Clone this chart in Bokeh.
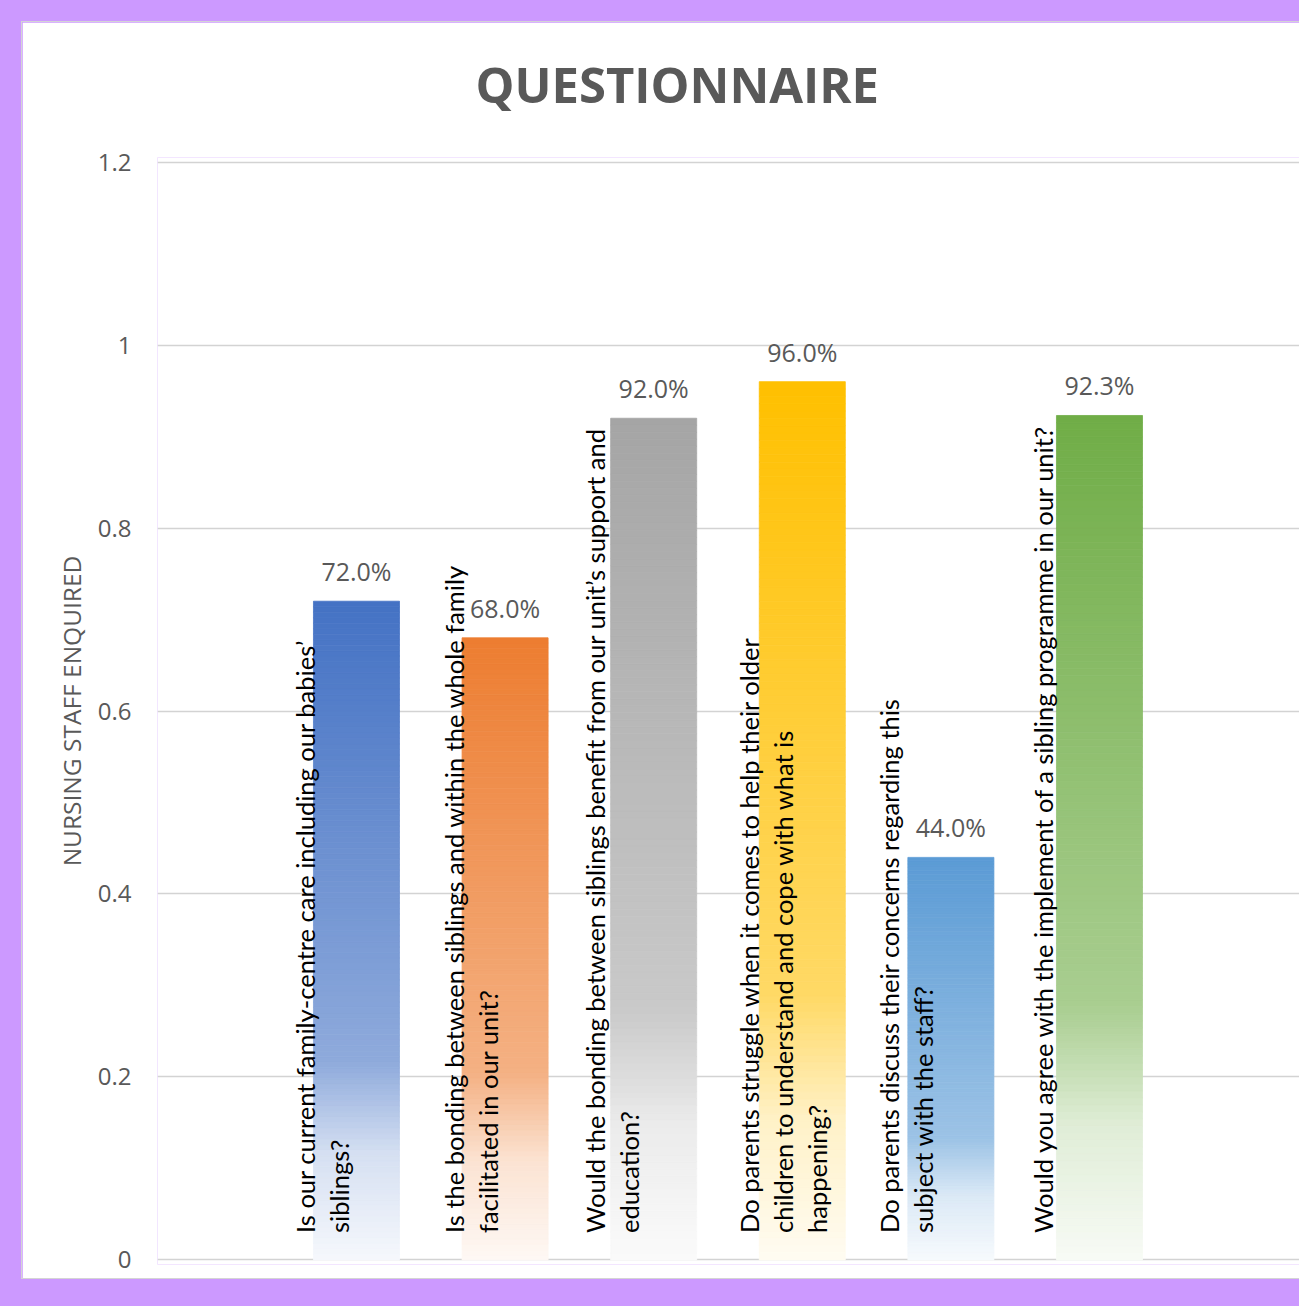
import numpy as np
from bokeh.plotting import figure
from bokeh.models import Range1d, FixedTicker, ColumnDataSource, Title
from bokeh.layouts import column
from bokeh.core.properties import value
from bokeh.embed import file_html
from bokeh.resources import INLINE

# ---------------- data ----------------
title_text = "QUESTIONNAIRE"
y_axis_title = "NURSING STAFF ENQUIRED"
questions = [
    ["Is our current family-centre care including our babies\u2019", "siblings?"],
    ["Is the bonding between siblings and within the whole family", "facilitated in our unit?"],
    ["Would the bonding between siblings benefit from our unit\u2019s support and", "education?"],
    ["Do parents struggle when it comes to help their older",
     "children to understand and cope with what is", "happening?"],
    ["Do parents discuss their concerns regarding this", "subject with the staff?"],
    ["Would you agree with the implement of a sibling programme in our unit?"],
]
values = [0.72, 0.68, 0.92, 0.96, 0.44, 0.923]
value_labels = ["72.0%", "68.0%", "92.0%", "96.0%", "44.0%", "92.3%"]
bar_colors = ["#4472C4", "#ED7D31", "#A5A5A5", "#FFC000", "#5B9BD5", "#70AD47"]
y_ticks = [0, 0.2, 0.4, 0.6, 0.8, 1.0, 1.2]
y_tick_labels = ["0", "0.2", "0.4", "0.6", "0.8", "1", "1.2"]

# ---------------- style / layout ----------------
GREY = "#595959"
BAR_W = 0.579
line_first_offset = [-51, -51, -59, -53, -62, -56]  # px, first text line vs bar centre
LINE_STEP = 34
fade_t = [0.0, 0.70, 0.84, 1.0]
fade_f = [0.0, 0.40, 0.78, 0.95]
N_SLICES = 120


def hex_rgb(h):
    h = h.lstrip("#")
    return np.array([int(h[i:i + 2], 16) for i in (0, 2, 4)], dtype=float)


def to_hex(c):
    c = np.clip(np.round(c), 0, 255).astype(int)
    return "#%02x%02x%02x" % tuple(c)


xs = list(range(len(values)))

p = figure(width=1277, height=1256, output_backend="svg", toolbar_location=None,
           x_range=Range1d(-1.339, 6.346), y_range=Range1d(-0.005, 1.205),
           min_border_left=135, min_border_right=0, min_border_top=135,
           min_border_bottom=14)
p.styles = {"box-shadow": "0 0 0 1px #d4d4d4"}
p.background_fill_color = "white"
p.border_fill_color = "white"
p.outline_line_color = None

# spacer panel between frame and title, then the title itself (outermost)
p.add_layout(Title(text=" ", text_font_size="1px", standoff=14), "above")
p.add_layout(Title(text=title_text, text_font="Open Sans", text_font_size="49px",
                   text_font_style="bold", text_color=GREY, align="left",
                   offset=318, standoff=48), "above")

p.xaxis.visible = False
p.xgrid.visible = False
p.ygrid.ticker = FixedTicker(ticks=y_ticks)
p.ygrid.grid_line_color = "#d3d3d3"
p.ygrid.grid_line_width = 1.6

ya = p.yaxis[0]
ya.ticker = FixedTicker(ticks=y_ticks)
ya.major_label_overrides = {float(t): l for t, l in zip(y_ticks, y_tick_labels)}
ya.axis_line_color = None
ya.major_tick_line_color = None
ya.minor_tick_line_color = None
ya.major_label_text_font = "Open Sans"
ya.major_label_text_font_size = "24px"
ya.major_label_text_color = GREY
ya.major_label_standoff = 20
ya.axis_label = y_axis_title
ya.axis_label_text_font = "Open Sans"
ya.axis_label_text_font_size = "24.5px"
ya.axis_label_text_font_style = "normal"
ya.axis_label_text_color = GREY
ya.axis_label_standoff = 7

# gradient bars made of thin slices
L, R, B, T, C = [], [], [], [], []
for x, v, col in zip(xs, values, bar_colors):
    base = hex_rgb(col)
    for k in range(N_SLICES):
        tmid = 1 - (k + 0.5) / N_SLICES
        f = np.interp(tmid, fade_t, fade_f)
        L.append(x - BAR_W / 2)
        R.append(x + BAR_W / 2)
        B.append(v * k / N_SLICES)
        T.append(v * (k + 1) / N_SLICES)
        C.append(to_hex(base + (255 - base) * f))
src = ColumnDataSource(dict(left=L, right=R, bottom=B, top=T, color=C))
p.quad(left="left", right="right", bottom="bottom", top="top", source=src,
       fill_color="color", line_color="color", line_width=0.8)

# value labels
p.text(x=xs, y=values, text=value_labels, text_align="center",
       text_baseline="alphabetic", y_offset=-30,
       text_font=value("Open Sans"), text_font_size="25px", text_color=GREY)

# rotated category labels
tx, ty, tt, txo = [], [], [], []
for x, lines, off in zip(xs, questions, line_first_offset):
    for j, ln in enumerate(lines):
        tx.append(x)
        ty.append(0)
        tt.append(ln)
        txo.append(off + LINE_STEP * j)
lsrc = ColumnDataSource(dict(x=tx, y=ty, text=tt, xo=txo))
p.text(x="x", y="y", text="text", x_offset="xo", y_offset=-27, source=lsrc,
       angle=np.pi / 2, text_align="left", text_baseline="middle",
       text_font=value("Lato"), text_font_size="25.5px", text_color="#000000")

layout = column(p, styles={"background-color": "#CC99FF",
                           "padding": "22px 0px 28px 22px"})

open("out.html", "w").write(file_html(layout, INLINE))
